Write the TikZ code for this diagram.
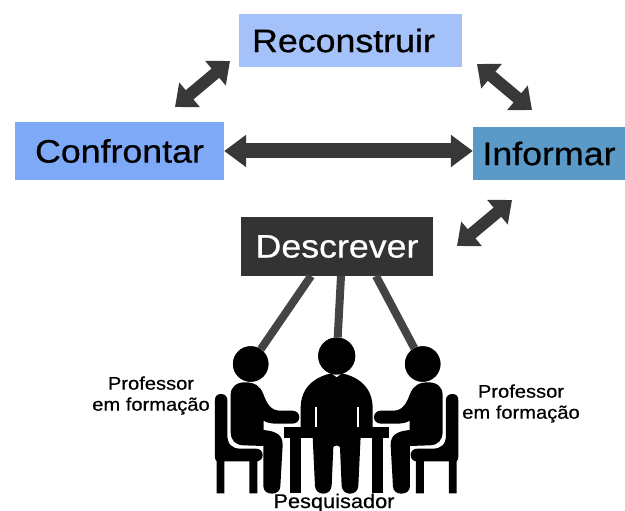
\documentclass[tikz,border=0pt]{standalone}
\usepackage{fontspec}
\setmainfont{Liberation Sans}[FakeStretch=1.1,FakeBold=0.6]
\usetikzlibrary{arrows.meta,calc}
\tikzset{
  stagebox/.style={draw=none,inner sep=0pt,font=\fontsize{32.5}{36}\selectfont,text=black},
  biarrow/.style={draw=arrowgray,line width=12pt,{Triangle[length=19pt,width=31pt]}-{Triangle[length=19pt,width=31pt]}},
  widearrow/.style={draw=arrowgray,line width=15pt,{Triangle[length=22pt,width=31pt]}-{Triangle[length=22pt,width=31pt]}},
  linkline/.style={draw=linkgray,line width=8pt},
  personlabel/.style={font=\fontsize{18.3}{21}\selectfont,align=center,inner sep=0pt,text=black},
  headdot/.style={circle,fill=black,inner sep=0pt},
}
\definecolor{arrowgray}{HTML}{383838}
\definecolor{linkgray}{HTML}{444444}
\definecolor{recblue}{HTML}{A4C2F9}
\definecolor{conblue}{HTML}{7EA9F7}
\definecolor{infblue}{HTML}{5B99C7}
\definecolor{desdark}{HTML}{333333}
\begin{document}
\begin{tikzpicture}[x=1pt,y=-1pt]
\useasboundingbox (0,0) rectangle (625,511);
% boxes
\node[stagebox,fill=recblue,minimum width=223pt,minimum height=53pt] (rec) at (350.5,40.5) {Reconstruir\hspace*{14pt}};
\node[stagebox,fill=conblue,minimum width=209pt,minimum height=58pt] (con) at (119.5,151) {Confrontar};
\node[stagebox,fill=infblue,minimum width=152pt,minimum height=53pt] (inf) at (549,153.5) {Informar};
\node[stagebox,fill=desdark,text=white,minimum width=192pt,minimum height=59pt] (des) at (337,246.5) {Descrever};
% named free ends of the arrows
\coordinate (a1) at (175,107); \coordinate (a2) at (230,61);
\coordinate (b1) at (477,64);  \coordinate (b2) at (532,110);
\coordinate (d1) at (457,246); \coordinate (d2) at (512,200);
\draw[biarrow] (a1) -- (a2);
\draw[biarrow] (b1) -- (b2);
\draw[biarrow] (d1) -- (d2);
\draw[widearrow] (con.east) -- (con.east -| inf.west);
% heads
\node[headdot,minimum size=35.5pt] (hl) at (250.7,364) {};
\node[headdot,minimum size=37pt] (hc) at (336.7,356) {};
\node[headdot,minimum size=35.5pt] (hr) at (422.7,364) {};
% links
\coordinate (ls1) at (311,276);
\coordinate (ls2) at (341,276);
\coordinate (ls3) at (376,276);
\draw[linkline] (ls1) -- (hl);
\draw[linkline] (ls2) -- (hc);
\draw[linkline] (ls3) -- (hr);
\node[headdot,minimum size=35.5pt] at (hl) {};
\node[headdot,minimum size=37pt] at (hc) {};
\node[headdot,minimum size=35.5pt] at (hr) {};
% figures, drawn in the 3x crop coordinates
\begin{scope}[shift={(200,320)},x=0.3333pt,y=-0.3333pt]
\def\sideperson{
  % chair
  \fill[black] (45,240) .. controls (45,228) and (52,222) .. (63,222)
    .. controls (75,222) and (82,230) .. (82,240) -- (82,345)
    .. controls (82,372) and (95,386) .. (122,386) -- (168,386)
    .. controls (180,386) and (188,394) .. (188,405)
    .. controls (188,415) and (182,422) .. (172,424) -- (172,520) -- (148,520) -- (148,424)
    -- (73,424) -- (73,520) -- (50,520) -- (50,424) .. controls (46,420) and (45,416) .. (45,410) -- cycle;
  % body
  \fill[black] (92,225) .. controls (92,200) and (110,187) .. (135,187)
    .. controls (165,187) and (180,198) .. (190,222)
    .. controls (200,250) and (212,272) .. (240,272) -- (277,272)
    .. controls (290,272) and (298,281) .. (298,292)
    .. controls (298,302) and (290,311) .. (277,311) -- (230,311)
    .. controls (212,311) and (200,308) .. (191,302) -- (191,330)
    .. controls (230,334) and (248,345) .. (248,375)
    -- (241,500) .. controls (240,513) and (230,521) .. (216,521)
    .. controls (200,521) and (190,512) .. (190,498) -- (190,378) -- (130,376)
    .. controls (105,375) and (92,360) .. (92,335) -- cycle;
}
\sideperson
\begin{scope}[xshift=273.3pt,xscale=-1]
\sideperson
\end{scope}
% table
\fill[black] (252,320) rectangle (568,355);
\fill[black] (270,350) rectangle (303,520);
\fill[black] (517,350) rectangle (550,520);
% centre person
\fill[black] (302,325) -- (302,265) .. controls (302,205) and (340,172) .. (394,160)
  -- (410,172) -- (426,160) .. controls (480,172) and (518,205) .. (518,265) -- (518,325) -- cycle;
\fill[black] (338,350) -- (345,498) .. controls (346,512) and (356,521) .. (370,521)
  .. controls (384,521) and (393,512) .. (395,498) -- (400,382) .. controls (403,375) and (417,375) .. (420,382)
  -- (425,498) .. controls (427,512) and (436,521) .. (450,521)
  .. controls (464,521) and (474,512) .. (475,498) -- (482,350) -- cycle;
\draw[white,line width=2pt] (347,320) -- (347,262) (473,320) -- (473,262);
\end{scope}
% labels
\node[personlabel] (pl) at (151,395.5) {Professor\\em formação};
\node[personlabel] (pr) at (521,403.5) {Professor\\em formação};
\node[personlabel,anchor=base,font=\fontsize{19.8}{21}\selectfont] (pq) at (334,508) {Pesquisador};
\end{tikzpicture}
\end{document}
